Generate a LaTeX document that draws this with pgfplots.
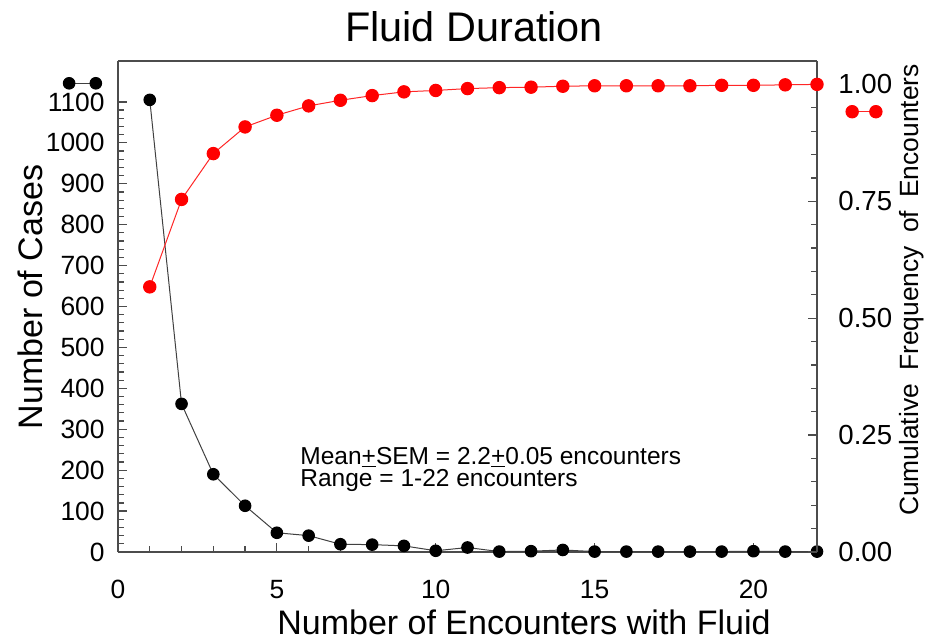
\documentclass[border=0pt]{standalone}
\usepackage{pgfplots}
\pgfplotsset{compat=1.18}
\usepackage{fontspec}
\setmainfont{Liberation Sans}
\newcommand{\lfnt}{\fontsize{13.2}{16}\selectfont}
\newcommand{\rfnt}{\fontsize{13.8}{16}\selectfont}
\begin{document}
\begin{tikzpicture}
\useasboundingbox (-59pt,-45pt) rectangle (406pt,276pt);
\begin{axis}[
  scale only axis, width=349.5pt, height=245.5pt,
  xmin=0, xmax=22, ymin=0, ymax=1200,
  axis x line*=bottom, axis y line*=left,
  xtick={0,5,10,15,20}, minor x tick num=4,
  xticklabels={0,5,10,15,20},
  ytick={0,100,200,300,400,500,600,700,800,900,1000,1100}, minor y tick num=4,
  yticklabels={0,100,200,300,400,500,600,700,800,900,1000,1100},
  tick align=inside,
  major tick length=4.5pt, minor tick length=2.8pt,
  axis line style={draw=black!70, line width=0.6pt},
  tick style={black!70, line width=0.6pt},
  yticklabel style={font=\lfnt, inner sep=0pt, xshift=-6.5pt},
  xticklabel style={font=\lfnt, inner sep=0pt, yshift=-14pt},
  clip=false,
  every axis title shift=0pt,
  title={Fluid Duration},
  title style={font=\fontsize{20.7}{24}\selectfont, at={(axis description cs:0.5093,1.0407)}, anchor=base, inner sep=0pt},
  xlabel={Number of Encounters with Fluid},
  xlabel style={font=\fontsize{17}{20}\selectfont, at={(axis description cs:0.5808,-0.1690)}, anchor=base, inner sep=0pt},
  ylabel={Number of Cases},
  ylabel style={font=\fontsize{17}{20}\selectfont, at={(axis description cs:-0.1087,0.5193)}, anchor=base, inner sep=0pt},
  legend style={draw=none, fill=none, inner sep=0pt, outer sep=0pt, nodes={inner sep=0pt}, column sep=0pt,
    at={(axis description cs:-0.0494,0.9546)}, anchor=center},
]
\addplot[black!75, line width=0.5pt, mark=*, mark size=2.9pt, mark options={fill=black, draw=black, solid},
  legend image code/.code={
    \draw[black!75, line width=0.5pt] (0pt,0pt) -- (13.35pt,0pt);
    \fill[black] (0pt,0pt) circle[radius=2.9pt];
    \fill[black] (13.35pt,0pt) circle[radius=2.9pt];
  }] coordinates {
(1,1105) (2,362) (3,190) (4,113) (5,47) (6,40) (7,19) (8,18) (9,15) (10,3) (11,11)
(12,1) (13,2) (14,5) (15,1) (16,1) (17,1) (18,1) (19,1) (20,2) (21,1) (22,1)
};
\addlegendentry{}
\node[anchor=base west, font=\fontsize{12.25}{15}\selectfont, inner sep=0pt] at (axis description cs:0.2604,0.1792)
  {Mean\underline{+}SEM = 2.2\underline{+}0.05 encounters};
\node[anchor=base west, font=\fontsize{12.25}{15}\selectfont, inner sep=0pt] at (axis description cs:0.2604,0.1324)
  {Range = 1-22 encounters};
\end{axis}
\begin{axis}[
  scale only axis, width=349.5pt, height=245.5pt,
  xmin=0, xmax=22, ymin=0, ymax=1.05,
  axis y line*=right, axis x line*=top, xtick=\empty,
  ytick={0,0.25,0.5,0.75,1}, minor y tick num=4,
  yticklabels={0.00,0.25,0.50,0.75,1.00},
  tick align=inside,
  major tick length=4.5pt, minor tick length=2.8pt,
  axis line style={draw=black!70, line width=0.6pt},
  tick style={black!70, line width=0.6pt},
  yticklabel style={font=\rfnt, inner sep=0pt, xshift=10.5pt},
  clip=false,
  ylabel={Cumulative\hspace{0.5em}Frequency\hspace{0.5em}of\hspace{0.5em}Encounters},
  ylabel style={font=\fontsize{13.2}{15}\selectfont, at={(axis description cs:1.1445,0.5336)}, anchor=base, rotate=0, inner sep=0pt},
  legend style={draw=none, fill=none, inner sep=0pt, outer sep=0pt, nodes={inner sep=0pt}, column sep=0pt,
    at={(axis description cs:1.0687,0.8967)}, anchor=center},
]
\addplot[red!85, line width=0.5pt, mark=*, mark size=3.1pt, mark options={fill=red, draw=red, solid},
  legend image code/.code={
    \draw[red!85, line width=0.5pt] (0pt,0pt) -- (11.85pt,0pt);
    \fill[red] (0pt,0pt) circle[radius=3.1pt];
    \fill[red] (11.85pt,0pt) circle[radius=3.1pt];
  }] coordinates {
(1,0.567) (2,0.754) (3,0.852) (4,0.909) (5,0.934) (6,0.954) (7,0.966) (8,0.976) (9,0.984) (10,0.987) (11,0.991)
(12,0.993) (13,0.994) (14,0.996) (15,0.997) (16,0.997) (17,0.997) (18,0.997) (19,0.998) (20,0.998) (21,0.999) (22,1.000)
};
\addlegendentry{}
\end{axis}
\end{tikzpicture}
\end{document}
